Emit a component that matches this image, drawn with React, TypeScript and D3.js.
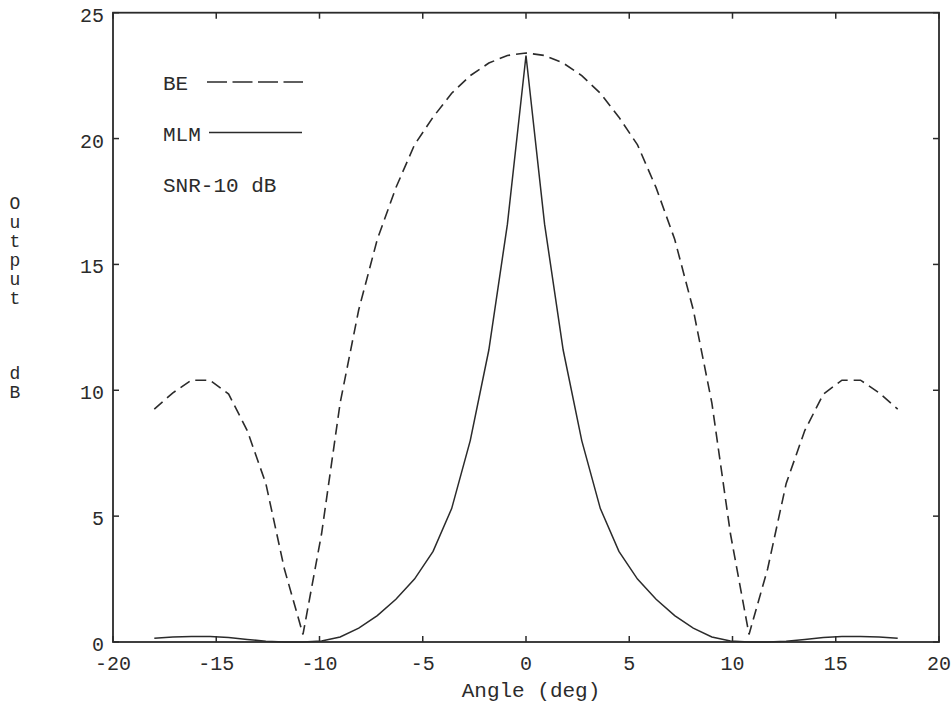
import React from "react";
import * as d3 from "d3";

// Look angles (deg), sampled every 0.9 degree
const angles = [
  -18, -17.1, -16.2, -15.3, -14.4, -13.5, -12.6, -11.7, -10.8, -9.9, -9.0,
  -8.1, -7.2, -6.3, -5.4, -4.5, -3.6, -2.7, -1.8, -0.9, 0,
  0.9, 1.8, 2.7, 3.6, 4.5, 5.4, 6.3, 7.2, 8.1, 9.0,
  9.9, 10.8, 11.7, 12.6, 13.5, 14.4, 15.3, 16.2, 17.1, 18,
];

// Beam-former output (dB)
const beValues = [
  9.25, 9.9, 10.4, 10.4, 9.85, 8.4, 6.3, 2.9, 0.3, 4.3, 9.5,
  13.2, 16.0, 18.05, 19.75, 20.85, 21.8, 22.5, 23.0, 23.3, 23.4,
  23.3, 23.0, 22.5, 21.8, 20.85, 19.75, 18.05, 16.0, 13.2, 9.5,
  4.3, 0.3, 2.9, 6.3, 8.4, 9.85, 10.4, 10.4, 9.9, 9.25,
];

// Maximum-likelihood method output (dB)
const mlmValues = [
  0.15, 0.2, 0.22, 0.22, 0.18, 0.1, 0.03, 0.0, 0.0, 0.04, 0.2,
  0.55, 1.05, 1.7, 2.5, 3.6, 5.3, 8.0, 11.6, 16.6, 23.3,
  16.6, 11.6, 8.0, 5.3, 3.6, 2.5, 1.7, 1.05, 0.55, 0.2,
  0.04, 0.0, 0.0, 0.03, 0.1, 0.18, 0.22, 0.22, 0.2, 0.15,
];

const xTicks = [-20, -15, -10, -5, 0, 5, 10, 15, 20];
const yTicks = [0, 5, 10, 15, 20, 25];
const yTitle = ["O", "u", "t", "p", "u", "t", "", "", "", "d", "B"];

const FONT = "'Liberation Mono', 'DejaVu Sans Mono', monospace";
const INK = "#2b2b2b";

export default function App() {
  const left = 113, right = 939, top = 12.7, bottom = 642;
  const x = d3.scaleLinear().domain([-20, 20]).range([left, right]);
  const y = d3.scaleLinear().domain([0, 25]).range([bottom, top]);

  const line = d3
    .line<number>()
    .x((_, i) => x(angles[i]))
    .y((v) => y(v));

  const tickLen = 6;

  return (
    <svg
      width={952}
      height={724}
      style={{ position: "absolute", left: 0, top: 0, background: "#fff" }}
      fontFamily={FONT}
    >
      <rect x={0} y={0} width={952} height={724} fill="#fff" />

      {/* curves */}
      <path
        d={line(beValues) ?? ""}
        fill="none"
        stroke={INK}
        strokeWidth={1.6}
        strokeDasharray="11,6"
      />
      <path d={line(mlmValues) ?? ""} fill="none" stroke={INK} strokeWidth={1.5} />

      {/* frame */}
      <rect
        x={left}
        y={top}
        width={right - left}
        height={bottom - top}
        fill="none"
        stroke={INK}
        strokeWidth={1.8}
      />

      {/* x ticks, bottom and top, pointing inward */}
      {xTicks.map((t) => (
        <g key={"xt" + t}>
          <line x1={x(t)} x2={x(t)} y1={bottom} y2={bottom - tickLen} stroke={INK} strokeWidth={1.5} />
          <line x1={x(t)} x2={x(t)} y1={top} y2={top + tickLen} stroke={INK} strokeWidth={1.5} />
          <text
            x={x(t)}
            y={bottom + 28}
            textAnchor="middle"
            fontSize={20}
            fill={INK}
          >
            {t < 0 ? "-" + Math.abs(t) : String(t)}
          </text>
        </g>
      ))}

      {/* y ticks, left and right */}
      {yTicks.map((t) => (
        <g key={"yt" + t}>
          <line x1={left} x2={left + tickLen} y1={y(t)} y2={y(t)} stroke={INK} strokeWidth={1.5} />
          <line x1={right} x2={right - tickLen} y1={y(t)} y2={y(t)} stroke={INK} strokeWidth={1.5} />
          <text x={104} y={y(t) + 9} textAnchor="end" fontSize={20} fill={INK}>
            {t}
          </text>
        </g>
      ))}

      {/* axis titles */}
      <text x={531} y={697} textAnchor="middle" fontSize={21} fill={INK}>
        Angle (deg)
      </text>
      {yTitle.map((c, i) => (
        <text key={"yl" + i} x={15} y={209 + i * 18.9} textAnchor="middle" fontSize={18} fill={INK}>
          {c}
        </text>
      ))}

      {/* legend */}
      <text x={163} y={90} fontSize={21} fill={INK}>BE</text>
      <line x1={207} x2={303} y1={82} y2={82} stroke={INK} strokeWidth={1.6} strokeDasharray="20,5.5" />
      <text x={163} y={141} fontSize={21} fill={INK}>MLM</text>
      <line x1={209} x2={302} y1={132.5} y2={132.5} stroke={INK} strokeWidth={1.6} />
      <text x={163} y={192} fontSize={21} fill={INK}>SNR-10 dB</text>
    </svg>
  );
}
